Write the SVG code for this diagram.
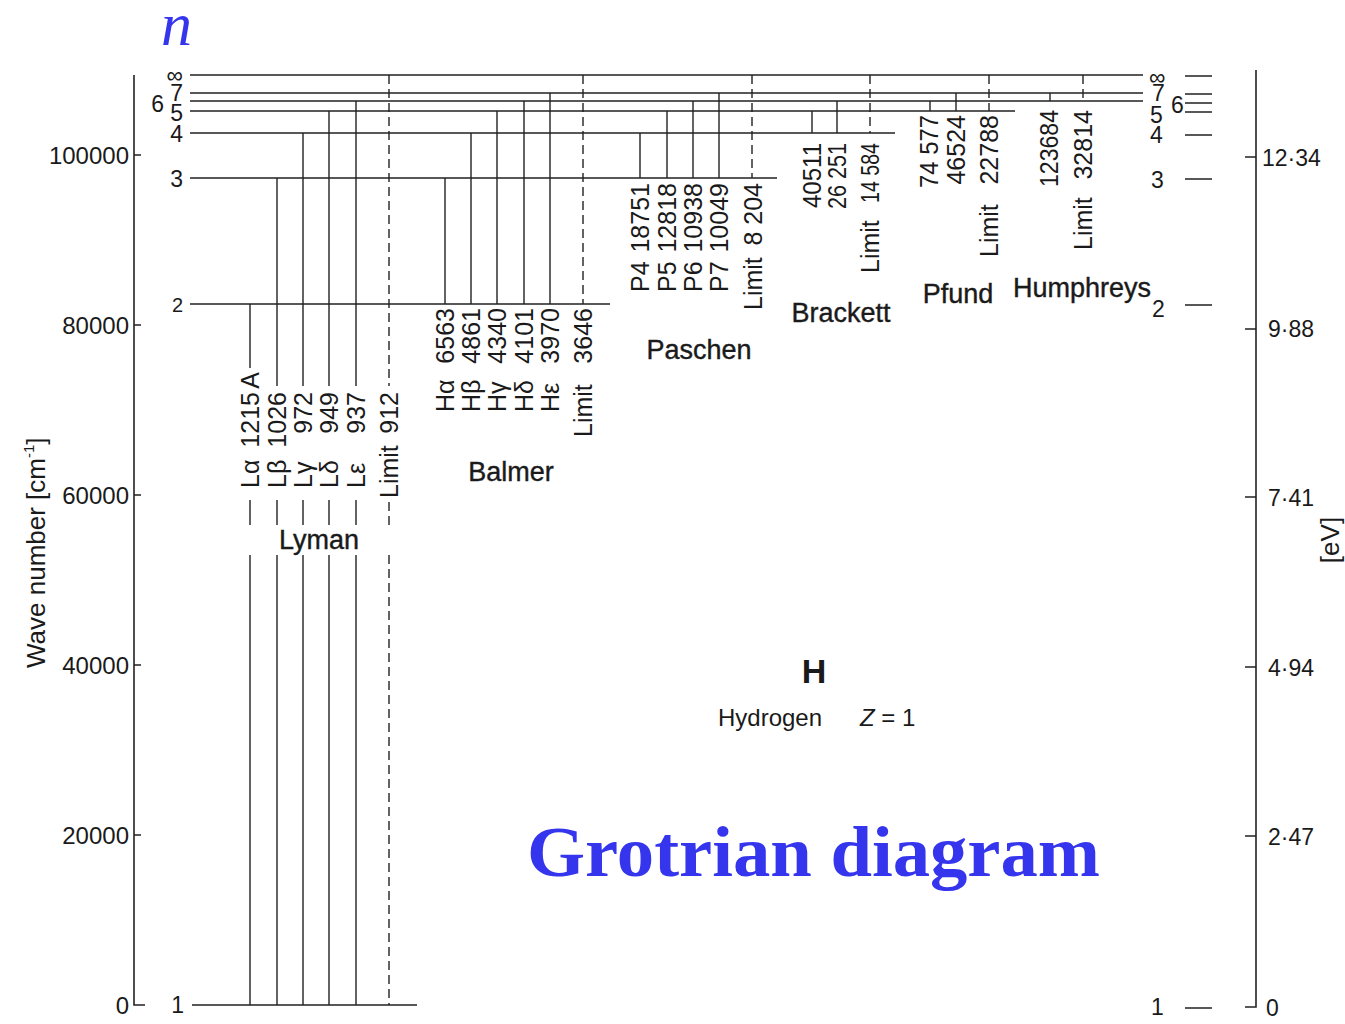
<svg xmlns="http://www.w3.org/2000/svg" width="1345" height="1024" viewBox="0 0 1345 1024">
<style>
.ax{stroke:#222;stroke-width:1.6;fill:none}
.lv{stroke:#222;stroke-width:1.6;fill:none}
.tr{stroke:#222;stroke-width:1.4;fill:none}
.lim{stroke-dasharray:9 5}
.t{font-family:'Liberation Sans',Arial,sans-serif;fill:#1a1a1a}
.num{font-size:25px}
.lab{font-size:23px}
.ser{font-size:27px;stroke:#1a1a1a;stroke-width:0.4}
.blue{font-family:'Liberation Serif','Times New Roman',serif;fill:#3535ee}
</style>
<rect width="1345" height="1024" fill="#fff"/>

<g id="title-n"><text class="blue" x="161" y="45" font-size="62" font-style="italic">n</text></g>

<g id="left-axis">
<path class="ax" d="M134 75V1005H145M134 155H141M134 325H141M134 495H141M134 665H141M134 835H141"/>
<g class="t" font-size="24" text-anchor="end">
<text x="129" y="164">100000</text>
<text x="129" y="334">80000</text>
<text x="129" y="504">60000</text>
<text x="129" y="674">40000</text>
<text x="129" y="844">20000</text>
<text x="129" y="1014">0</text>
</g>
<text class="t" font-size="26" transform="translate(45,668) rotate(-90)">Wave number [cm<tspan font-size="15" dy="-11">-1</tspan><tspan dy="11">]</tspan></text>
</g>

<g id="right-axis">
<path class="ax" d="M1256 70V1007H1245M1245 157H1256M1245 329H1256M1245 497H1256M1245 667H1256M1245 836H1256"/>
<g class="t" font-size="23">
<text x="1262" y="166">12·34</text>
<text x="1268" y="337">9·88</text>
<text x="1268" y="506">7·41</text>
<text x="1268" y="676">4·94</text>
<text x="1268" y="845">2·47</text>
<text x="1266" y="1016">0</text>
</g>
<text class="t" font-size="26" text-anchor="middle" transform="translate(1339,540) rotate(-90)">[eV]</text>
<path class="lv" d="M1185 76H1212M1185 94H1212M1185 103H1212M1185 112H1212M1185 135H1212M1185 179H1212M1185 305H1212M1185 1008H1212"/>
<g class="t lab">
<text x="1149" y="85">∞</text>
<text x="1152" y="101">7</text>
<text x="1171" y="113">6</text>
<text x="1150" y="123">5</text>
<text x="1150" y="143">4</text>
<text x="1151" y="188">3</text>
<text x="1152" y="317">2</text>
<text x="1151" y="1015">1</text>
</g>
</g>

<g id="levels">
<path class="lv" d="M190 75H1143M190 93H1143M190 101H1143M190 111H1015M190 133H895M190 178H777M190 304H610M192 1005H417"/>
<g class="t lab" text-anchor="end">
<text x="183" y="83">∞</text>
<text x="183" y="101">7</text>
<text x="164" y="112">6</text>
<text x="183" y="121">5</text>
<text x="183" y="142">4</text>
<text x="183" y="187">3</text>
<text x="183" y="312" font-size="20">2</text>
<text x="184" y="1013">1</text>
</g>
</g>

<g id="connectors">
<path class="tr" d="M250 304V368M250 500V525M250 555V1005
M277 178V386M277 500V525M277 555V1005
M303 133V386M303 500V525M303 555V1005
M329 111V386M329 500V525M329 555V1005
M356 101V386M356 500V525M356 555V1005"/>
<path class="tr lim" d="M389 75V386M389 502V525M389 555V1005"/>
<path class="tr" d="M445 178V304M471 133V304M497 111V304M524 101V304M550 93V304"/>
<path class="tr lim" d="M583 75V304"/>
<path class="tr" d="M640 133V178M667 111V178M693 101V178M719 93V178"/>
<path class="tr lim" d="M752 75V178"/>
<path class="tr" d="M812 111V133M837 101V133"/>
<path class="tr lim" d="M870 75V133"/>
<path class="tr" d="M930 101V111M956 93V111"/>
<path class="tr lim" d="M989 75V111"/>
<path class="tr" d="M1050 93V101"/>
<path class="tr lim" d="M1083 75V101"/>
</g>

<g id="lyman">
<g class="t num" text-anchor="end">
<text transform="translate(259,372) rotate(-90)">A</text>
<text transform="translate(259,392) rotate(-90)">1215</text>
<text transform="translate(286,392) rotate(-90)">1026</text>
<text transform="translate(312,392) rotate(-90)">972</text>
<text transform="translate(338,392) rotate(-90)">949</text>
<text transform="translate(365,392) rotate(-90)">937</text>
<text transform="translate(398,392) rotate(-90)">912</text>
</g>
<g class="t num">
<text transform="translate(259,488) rotate(-90)">Lα</text>
<text transform="translate(286,488) rotate(-90)">Lβ</text>
<text transform="translate(312,488) rotate(-90)">Lγ</text>
<text transform="translate(338,488) rotate(-90)">Lδ</text>
<text transform="translate(365,488) rotate(-90)">Lε</text>
<text transform="translate(398,498) rotate(-90)">Limit</text>
</g>
<text class="t ser" x="319" y="549" text-anchor="middle">Lyman</text>
</g>

<g id="balmer">
<g class="t num" text-anchor="end">
<text transform="translate(454,308) rotate(-90)">6563</text>
<text transform="translate(480,308) rotate(-90)">4861</text>
<text transform="translate(506,308) rotate(-90)">4340</text>
<text transform="translate(533,308) rotate(-90)">4101</text>
<text transform="translate(559,308) rotate(-90)">3970</text>
<text transform="translate(592,308) rotate(-90)">3646</text>
</g>
<g class="t num">
<text transform="translate(454,412) rotate(-90)">Hα</text>
<text transform="translate(480,412) rotate(-90)">Hβ</text>
<text transform="translate(506,412) rotate(-90)">Hγ</text>
<text transform="translate(533,412) rotate(-90)">Hδ</text>
<text transform="translate(559,412) rotate(-90)">Hε</text>
<text transform="translate(592,437) rotate(-90)">Limit</text>
</g>
<text class="t ser" x="511" y="481" text-anchor="middle">Balmer</text>
</g>

<g id="paschen">
<g class="t num" text-anchor="end">
<text transform="translate(649,183) rotate(-90)">18751</text>
<text transform="translate(676,183) rotate(-90)">12818</text>
<text transform="translate(702,183) rotate(-90)">10938</text>
<text transform="translate(728,183) rotate(-90)">10049</text>
<text transform="translate(762,183) rotate(-90)">8 204</text>
</g>
<g class="t num">
<text transform="translate(649,292) rotate(-90)">P4</text>
<text transform="translate(676,292) rotate(-90)">P5</text>
<text transform="translate(702,292) rotate(-90)">P6</text>
<text transform="translate(728,292) rotate(-90)">P7</text>
<text transform="translate(762,310) rotate(-90)">Limit</text>
</g>
<text class="t ser" x="699" y="359" text-anchor="middle">Paschen</text>
</g>

<g id="brackett">
<g class="t num" text-anchor="end">
<text transform="translate(821,143) rotate(-90)" textLength="65" lengthAdjust="spacingAndGlyphs">40511</text>
<text transform="translate(846,143) rotate(-90)" textLength="66" lengthAdjust="spacingAndGlyphs">26 251</text>
<text transform="translate(879,143) rotate(-90)" textLength="60" lengthAdjust="spacingAndGlyphs">14 584</text>
</g>
<text class="t num" transform="translate(879,273) rotate(-90)">Limit</text>
<text class="t ser" x="841" y="322" text-anchor="middle">Brackett</text>
</g>

<g id="pfund">
<g class="t num" text-anchor="end">
<text transform="translate(938,115) rotate(-90)" textLength="73" lengthAdjust="spacingAndGlyphs">74 577</text>
<text transform="translate(965,115) rotate(-90)">46524</text>
<text transform="translate(998,115) rotate(-90)">22788</text>
</g>
<text class="t num" transform="translate(998,257) rotate(-90)">Limit</text>
<text class="t ser" x="958" y="303" text-anchor="middle">Pfund</text>
</g>

<g id="humphreys">
<g class="t num" text-anchor="end">
<text transform="translate(1058,110) rotate(-90)" textLength="77" lengthAdjust="spacingAndGlyphs">123684</text>
<text transform="translate(1092,110) rotate(-90)">32814</text>
</g>
<text class="t num" transform="translate(1092,250) rotate(-90)">Limit</text>
<text class="t ser" x="1082" y="297" text-anchor="middle">Humphreys</text>
</g>

<g id="element">
<text class="t" x="814" y="683" font-size="34" font-weight="bold" text-anchor="middle">H</text>
<text class="t" x="718" y="726" font-size="24">Hydrogen</text>
<text class="t" x="860" y="726" font-size="24" xml:space="preserve"><tspan font-style="italic">Z</tspan> = 1</text>
</g>

<g id="caption">
<text class="blue" x="527" y="876" font-size="72" font-weight="bold" textLength="573" lengthAdjust="spacingAndGlyphs">Grotrian diagram</text>
</g>
</svg>
